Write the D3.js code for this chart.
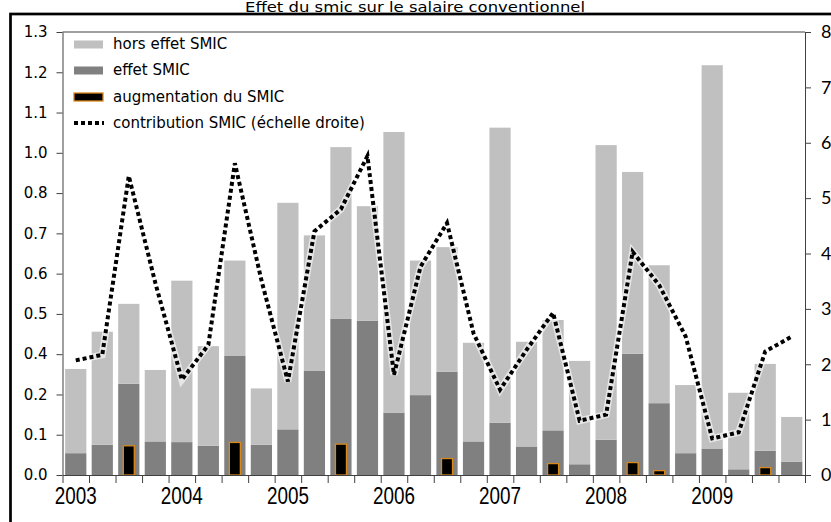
<!DOCTYPE html>
<html>
<head>
<meta charset="utf-8">
<script src="https://cdn.jsdelivr.net/npm/d3@7"></script>
<style>
    body { margin: 0; background: #fff; }
    svg { display: block; }
</style>
</head>
<body>
<div id="chart"></div>
<script>
// years shown on the x axis, one bar per quarter
const years = ["2003", "2004", "2005", "2006", "2007", "2008", "2009"];
const quarters = years.flatMap(y => ["T1", "T2", "T3", "T4"].map(q => y + q));

// left axis (%)
const effetSmic = [0.065, 0.090, 0.272, 0.100, 0.098, 0.087, 0.356, 0.090,
    0.136, 0.310, 0.465, 0.460, 0.186, 0.238, 0.308, 0.100,
    0.156, 0.085, 0.133, 0.032, 0.105, 0.361, 0.214, 0.065,
    0.079, 0.017, 0.072, 0.040];
const horsEffetSmic = [0.251, 0.337, 0.238, 0.213, 0.481, 0.297, 0.283, 0.168,
    0.675, 0.404, 0.512, 0.341, 0.836, 0.401, 0.371, 0.294,
    0.879, 0.312, 0.329, 0.308, 0.878, 0.542, 0.411, 0.203,
    1.142, 0.228, 0.259, 0.133];
const augmentationSmic = [0, 0, 0.087, 0, 0, 0, 0.097, 0,
    0, 0, 0.092, 0, 0, 0, 0.049, 0,
    0, 0, 0.034, 0, 0, 0.037, 0.013, 0,
    0, 0, 0.022, 0];
// right axis
const contributionSmic = [2.07, 2.17, 5.40, 3.47, 1.72, 2.35, 5.63, 3.52,
    1.69, 4.40, 4.80, 5.76, 1.81, 3.76, 4.55, 2.56,
    1.54, 2.26, 2.93, 0.98, 1.09, 4.03, 3.43, 2.50,
    0.66, 0.77, 2.23, 2.50];

const leftTicks = [0, 0.12, 0.24, 0.36, 0.48, 0.60, 0.72, 0.84, 0.96, 1.08, 1.20, 1.32];
const rightTicks = [0, 1, 2, 3, 4, 5, 6, 7, 8];

const legendItems = ["hors effet SMIC", "effet SMIC", "augmentation du SMIC", "contribution SMIC (échelle droite)"];

const W = 831, H = 522;
const plot = { left: 62.5, right: 805, top: 32, bottom: 475 };
const AXIS = "#404040";

const svg = d3.select("#chart")
    .append("svg")
    .attr("width", W)
    .attr("height", H);

// outer frame + title
svg.append("rect")
    .attr("x", 10.5).attr("y", 14)
    .attr("width", 900).attr("height", 600)
    .attr("fill", "none")
    .attr("stroke", "#000")
    .attr("stroke-width", 2.7);
svg.append("text")
    .attr("x", 415).attr("y", 12)
    .attr("text-anchor", "middle")
    .attr("font-family", "DejaVu Sans")
    .attr("font-size", 13.5)
    .attr("textLength", 340)
    .attr("lengthAdjust", "spacingAndGlyphs")
    .text("Effet du smic sur le salaire conventionnel");

/** scales */
const x = d3.scaleBand()
    .domain(quarters)
    .range([plot.left, plot.right])
    .paddingInner(0.2)
    .paddingOuter(0.1);
const xIdx = d3.scaleLinear().domain([0, quarters.length]).range([plot.left, plot.right]);
const yLeft = d3.scaleLinear().domain([0, 1.32]).range([plot.bottom, plot.top]);
const yRight = d3.scaleLinear().domain([0, 8]).range([plot.bottom, plot.top]);

/** bars */
let stackData = quarters.map((q, i) => ({ q: q, effet: effetSmic[i], hors: horsEffetSmic[i] }));
let stack = d3.stack().keys(["effet", "hors"])(stackData);
const barColors = { effet: "#808080", hors: "#c0c0c0" };

svg.append("g")
    .attr("class", "bars")
    .selectAll("g")
    .data(stack)
    .enter().append("g")
    .attr("fill", d => barColors[d.key])
    .selectAll("rect")
    .data(d => d)
    .enter().append("rect")
    .attr("x", d => x(d.data.q))
    .attr("width", x.bandwidth())
    .attr("y", d => yLeft(d[1]))
    .attr("height", d => yLeft(d[0]) - yLeft(d[1]));

const smallW = 11;
svg.append("g")
    .attr("class", "augmentation")
    .selectAll("rect")
    .data(quarters.map((q, i) => ({ q: q, v: augmentationSmic[i] })).filter(d => d.v > 0))
    .enter().append("rect")
    .attr("x", d => x(d.q) + x.bandwidth() / 2 - smallW / 2)
    .attr("width", smallW)
    .attr("y", d => yLeft(d.v))
    .attr("height", d => yLeft(0) - yLeft(d.v))
    .attr("fill", "#000")
    .attr("stroke", "#d9891c")
    .attr("stroke-width", 1.3);

/** axes */
let axisL = svg.append("g")
    .attr("transform", `translate(${plot.left},0)`)
    .call(d3.axisLeft(yLeft).tickValues(leftTicks).tickFormat(d3.format(".1f"))
        .tickSize(6).tickSizeOuter(0).tickPadding(9));
axisL.selectAll("text")
    .attr("font-family", "DejaVu Sans")
    .attr("font-size", 15)
    .attr("fill", "#000");

let axisR = svg.append("g")
    .attr("transform", `translate(${plot.right},0)`)
    .call(d3.axisRight(yRight).tickValues(rightTicks).tickFormat(d3.format("d"))
        .tickSize(6).tickSizeOuter(0).tickPadding(10));
axisR.selectAll("text")
    .attr("font-family", "Lato")
    .attr("font-size", 18)
    .attr("fill", "#000");

let axisB = svg.append("g")
    .attr("transform", `translate(0,${plot.bottom})`)
    .call(d3.axisBottom(xIdx).tickValues(d3.range(quarters.length + 1))
        .tickFormat("").tickSize(8).tickSizeOuter(0));

[axisL, axisR, axisB].forEach(a => {
    a.selectAll("line").attr("stroke", AXIS);
    a.selectAll(".domain").attr("stroke", AXIS);
});

// top border of the plot area
svg.append("line")
    .attr("x1", plot.left).attr("x2", plot.right)
    .attr("y1", plot.top).attr("y2", plot.top)
    .attr("stroke", AXIS);

// year labels under the first quarter
svg.append("g")
    .selectAll("text")
    .data(years)
    .enter().append("text")
    .attr("x", d => x(d + "T1") + x.bandwidth() / 2)
    .attr("y", 504)
    .attr("text-anchor", "middle")
    .attr("font-family", "Liberation Sans")
    .attr("font-size", 23)
    .attr("textLength", 42)
    .attr("lengthAdjust", "spacingAndGlyphs")
    .text(d => d);

/** dotted line */
const line = d3.line()
    .x((d, i) => x(quarters[i]) + x.bandwidth() / 2)
    .y(d => yRight(d));

svg.append("path")
    .attr("d", line(contributionSmic))
    .attr("fill", "none")
    .attr("stroke", "#fff")
    .attr("stroke-opacity", 0.6)
    .attr("stroke-width", 7);
svg.append("path")
    .attr("d", line(contributionSmic))
    .attr("fill", "none")
    .attr("stroke", "#000")
    .attr("stroke-width", 4)
    .attr("stroke-dasharray", "4,3");

/** legend */
const legend = svg.append("g").attr("class", "legend");
const rowY = [44.5, 70.5, 97, 123];
legendItems.forEach((label, i) => {
    if (i < 3) {
        legend.append("rect")
            .attr("x", 74)
            .attr("y", rowY[i] - 4)
            .attr("width", 29)
            .attr("height", 8)
            .attr("fill", ["#c0c0c0", "#808080", "#000"][i])
            .attr("stroke", i === 2 ? "#d9891c" : "none")
            .attr("stroke-width", 1.3);
    } else {
        legend.append("line")
            .attr("x1", 74).attr("x2", 104)
            .attr("y1", rowY[i]).attr("y2", rowY[i])
            .attr("stroke", "#000")
            .attr("stroke-width", 4)
            .attr("stroke-dasharray", "4,3");
    }
    legend.append("text")
        .attr("x", 113)
        .attr("y", rowY[i])
        .attr("dominant-baseline", "middle")
        .attr("font-family", "DejaVu Sans")
        .attr("font-size", 15)
        .text(label);
});
</script>
</body>
</html>
